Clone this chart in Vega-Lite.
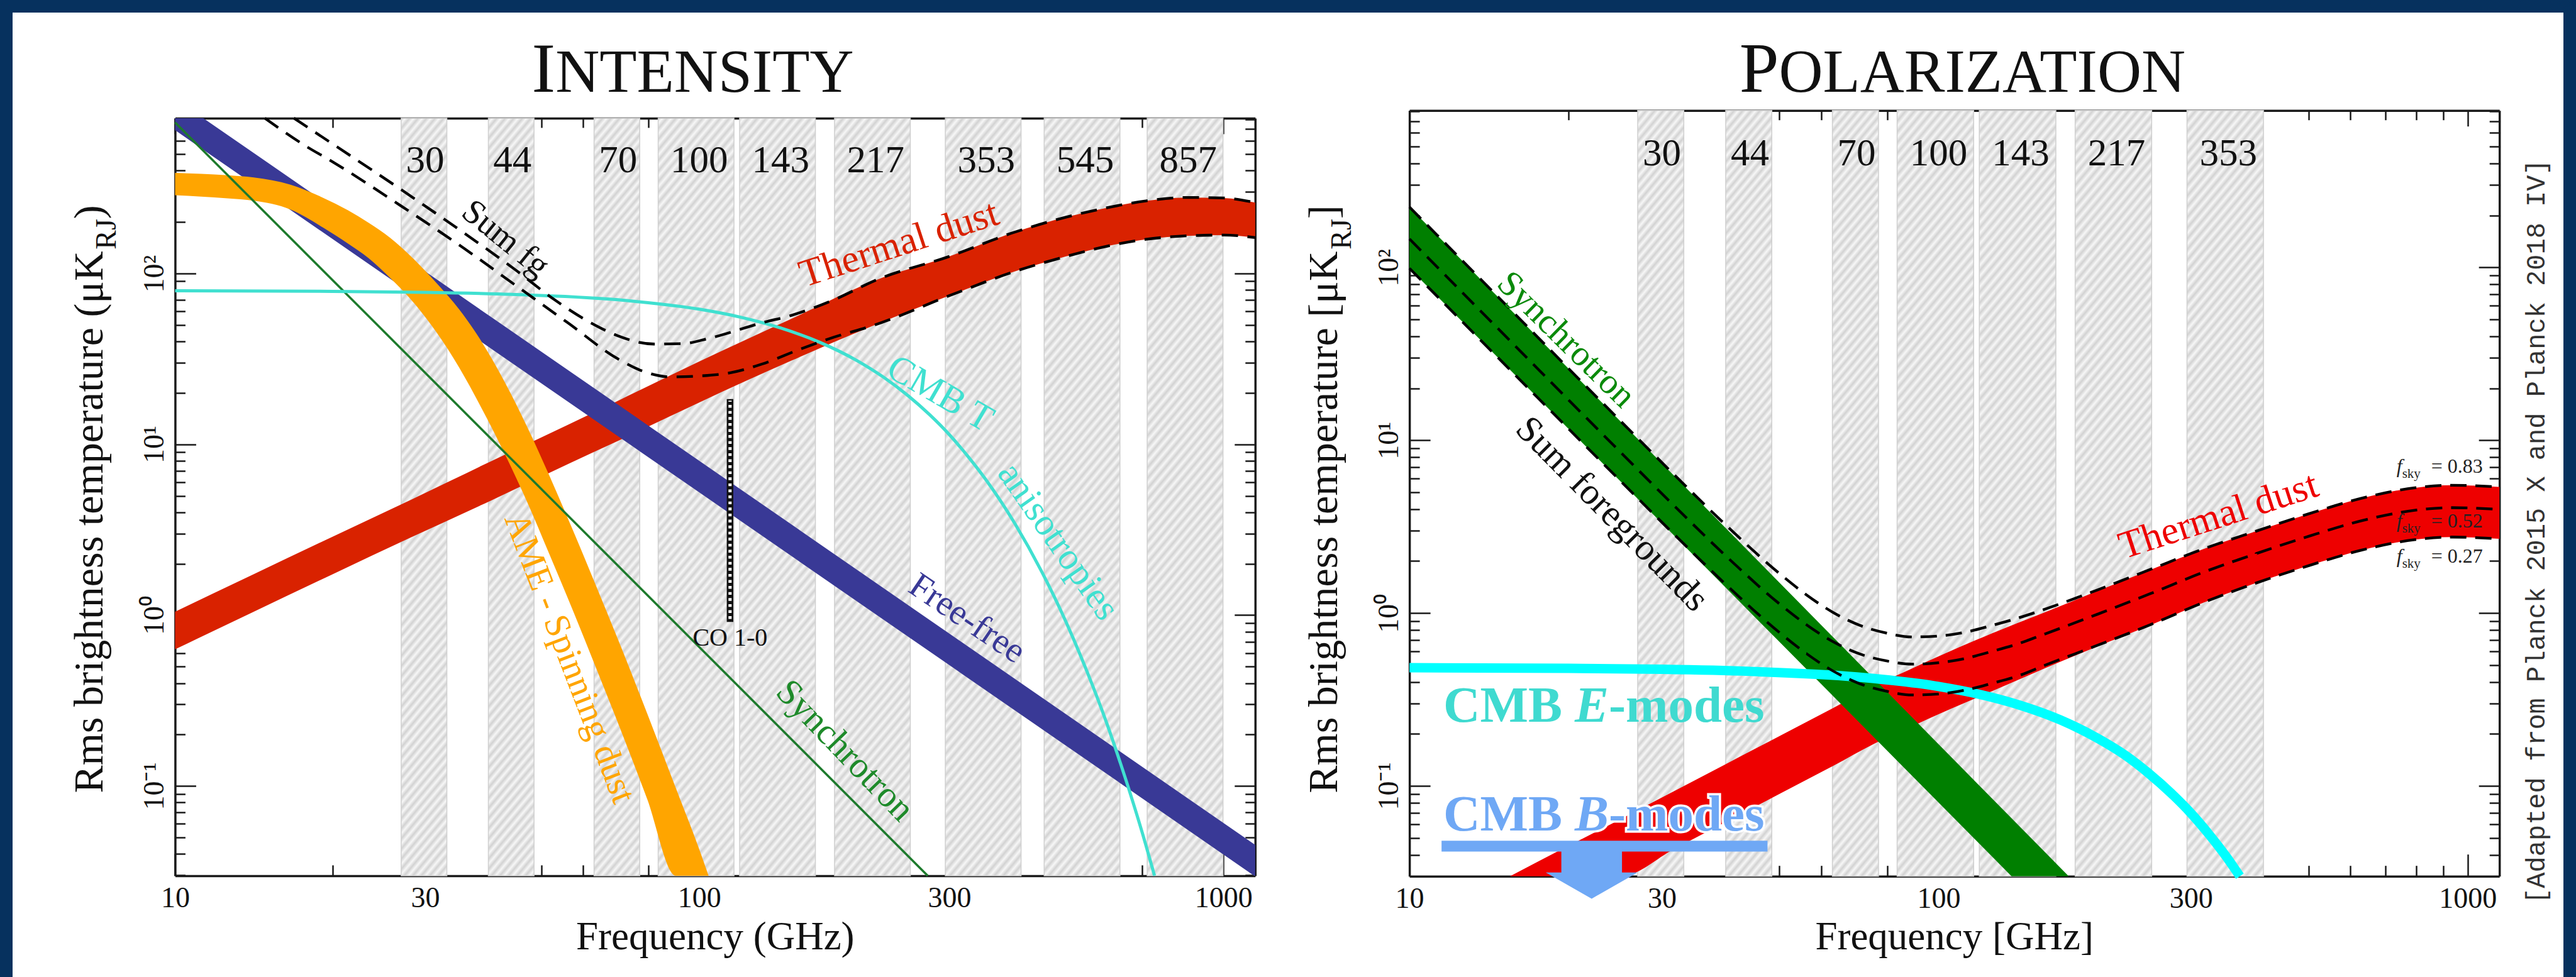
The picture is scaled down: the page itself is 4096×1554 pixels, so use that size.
{
"$schema":"https://vega.github.io/schema/vega-lite/v6.json",
"width":4096,"height":1574,
"autosize":{"type":"none"},
"padding":{"left":0,"top":0,"right":0,"bottom":-20},
"background":"white",
"config":{
 "view":{"stroke":"#06315e","strokeWidth":40},
 "axis":{"grid":false,"title":null,"domainColor":"#1a1a1a","tickColor":"#1a1a1a","labelFont":"Liberation Serif","labelColor":"#111111","labelOverlap":false,"labelFlush":false,"domainWidth":3.5,"tickWidth":2.5,"zindex":1},
 "text":{"font":"Liberation Serif","color":"#111111"}
},
"datasets":{
 "bandsL":[{"lo":27,"hi":33,"f":30,"lab":"30","g":"L"},{"lo":39.6,"hi":48.4,"f":44,"lab":"44","g":"L"},{"lo":63,"hi":77,"f":70,"lab":"70","g":"L"},{"lo":83.5,"hi":116.5,"f":100,"lab":"100","g":"H"},{"lo":119.4,"hi":166.6,"f":143,"lab":"143","g":"H"},{"lo":181.2,"hi":252.8,"f":217,"lab":"217","g":"H"},{"lo":294.8,"hi":411.2,"f":353,"lab":"353","g":"H"},{"lo":455.1,"hi":634.9,"f":545,"lab":"545","g":"H"},{"lo":715.6,"hi":998.4,"f":857,"lab":"857","g":"H"}],
 "bandsR":[{"lo":27,"hi":33,"f":30,"lab":"30","g":"L"},{"lo":39.6,"hi":48.4,"f":44,"lab":"44","g":"L"},{"lo":63,"hi":77,"f":70,"lab":"70","g":"L"},{"lo":83.5,"hi":116.5,"f":100,"lab":"100","g":"H"},{"lo":119.4,"hi":166.6,"f":143,"lab":"143","g":"H"},{"lo":181.2,"hi":252.8,"f":217,"lab":"217","g":"H"},{"lo":294.8,"hi":411.2,"f":353,"lab":"353","g":"H"}],
 "dustL":[{"f":10,"lo":0.631,"hi":1.047},{"f":14.13,"lo":1.047,"hi":1.738},{"f":20,"lo":1.738,"hi":2.884},{"f":28.18,"lo":2.851,"hi":4.732},{"f":40,"lo":4.677,"hi":7.943},{"f":56.23,"lo":7.674,"hi":13.03},{"f":70,"lo":10.47,"hi":17.99},{"f":100,"lo":17.58,"hi":30.55},{"f":150,"lo":30.9,"hi":54.33},{"f":216.8,"lo":50.12,"hi":91.2},{"f":300,"lo":74.13,"hi":125.9},{"f":398.1,"lo":102.3,"hi":173.8},{"f":501.2,"lo":125.9,"hi":213.8},{"f":600,"lo":144.5,"hi":242.7},{"f":711.2,"lo":158.5,"hi":266.1},{"f":849.2,"lo":166,"hi":278.6},{"f":1000,"lo":167.9,"hi":276.7},{"f":1150,"lo":162.2,"hi":260}],
 "sumLu":[{"f":16.85,"v":812},{"f":19.95,"v":575.4},{"f":26.85,"v":313.3},{"f":35.48,"v":173.8},{"f":44.67,"v":104.7},{"f":52.97,"v":70.15},{"f":63.1,"v":50.12},{"f":70,"v":43.15},{"f":82.04,"v":38.64},{"f":93.33,"v":38.9},{"f":104.2,"v":41.69},{"f":132.4,"v":51.64},{"f":150,"v":56.89},{"f":182,"v":70.79},{"f":216.8,"v":91.2},{"f":300,"v":125.9},{"f":398.1,"v":173.8},{"f":501.2,"v":213.8},{"f":600,"v":242.7},{"f":711.2,"v":266.1},{"f":849.2,"v":278.6},{"f":1000,"v":276.7},{"f":1150,"v":260}],
 "sumLl":[{"f":14.83,"v":812},{"f":17.78,"v":555.9},{"f":19.95,"v":451.9},{"f":26.85,"v":251.2},{"f":35.48,"v":141.3},{"f":44.67,"v":85.11},{"f":56.23,"v":51.29},{"f":70,"v":31.62},{"f":79.43,"v":26.3},{"f":87.9,"v":24.83},{"f":100,"v":25.12},{"f":115.1,"v":26.3},{"f":131.8,"v":29.51},{"f":155.2,"v":35.89},{"f":177.8,"v":41.69},{"f":216.8,"v":50.12},{"f":300,"v":74.13},{"f":398.1,"v":102.3},{"f":501.2,"v":125.9},{"f":600,"v":144.5},{"f":711.2,"v":158.5},{"f":849.2,"v":166},{"f":1000,"v":167.9},{"f":1150,"v":162.2}],
 "ffL":[{"f":10,"lo":690.2,"hi":812},{"f":11.32,"lo":530.2,"hi":812},{"f":1145,"lo":0.02982,"hi":0.0456},{"f":1150,"lo":0.02982,"hi":0.04519}],
 "ameL":[{"f":10,"lo":287.1,"hi":388.2},{"f":12.59,"lo":275.4,"hi":375.8},{"f":14.13,"lo":266.7,"hi":364.8},{"f":16.6,"lo":237.1,"hi":331.1},{"f":19.14,"lo":186.2,"hi":278},{"f":21.38,"lo":149.6,"hi":234.4},{"f":23.39,"lo":123,"hi":198.2},{"f":25.7,"lo":94.41,"hi":162.2},{"f":28.51,"lo":67.61,"hi":121.9},{"f":31.62,"lo":44.67,"hi":87.1},{"f":34.83,"lo":28.18,"hi":61.66},{"f":38.46,"lo":16.22,"hi":39.81},{"f":42.46,"lo":8.913,"hi":23.44},{"f":46.99,"lo":4.571,"hi":12.59},{"f":51.88,"lo":2.239,"hi":6.457},{"f":57.54,"lo":1.047,"hi":3.09},{"f":63.39,"lo":0.5012,"hi":1.514},{"f":70.79,"lo":0.2138,"hi":0.6607},{"f":79.43,"lo":0.08511,"hi":0.2692},{"f":90.16,"lo":0.02982,"hi":0.09772},{"f":100,"lo":0.02982,"hi":0.04266},{"f":104.2,"lo":0.02982,"hi":0.02982}],
 "syncL":[{"f":10,"v":765.6},{"f":272.9,"v":0.02982}],
 "cmbT":[{"f":10,"v":79.25},{"f":20,"v":78.61},{"f":30,"v":77.62},{"f":44,"v":75.51},{"f":70,"v":70.15},{"f":100,"v":61.8},{"f":120,"v":55.46},{"f":143,"v":47.97},{"f":170,"v":39.51},{"f":200,"v":30.9},{"f":225,"v":24.64},{"f":250,"v":19.32},{"f":275,"v":14.93},{"f":300,"v":11.4},{"f":325,"v":8.561},{"f":350,"v":6.383},{"f":400,"v":3.443},{"f":450,"v":1.803},{"f":500,"v":0.9247},{"f":550,"v":0.4634},{"f":600,"v":0.2301},{"f":650,"v":0.1112},{"f":700,"v":0.05346},{"f":739,"v":0.02982}],
 "syncR":[{"f":10,"lo":98.86,"hi":223.4},{"f":137.4,"lo":0.03006,"hi":0.06501},{"f":176.2,"lo":0.03006,"hi":0.03006}],
 "dustR":[{"f":15.49,"lo":0.03006,"hi":0.03006},{"f":19.95,"lo":0.03006,"hi":0.04498},{"f":25.12,"lo":0.03006,"hi":0.06457},{"f":31.62,"lo":0.04315,"hi":0.09333},{"f":39.81,"lo":0.06237,"hi":0.1349},{"f":50.12,"lo":0.09016,"hi":0.195},{"f":63.1,"lo":0.1303,"hi":0.2818},{"f":75.86,"lo":0.1766,"hi":0.3819},{"f":89.13,"lo":0.2213,"hi":0.4786},{"f":100,"lo":0.26,"hi":0.5623},{"f":125.9,"lo":0.3524,"hi":0.7621},{"f":158.5,"lo":0.4786,"hi":1.009},{"f":199.5,"lo":0.6412,"hi":1.34},{"f":251.2,"lo":0.8511,"hi":1.778},{"f":316.2,"lo":1.148,"hi":2.344},{"f":398.1,"lo":1.493,"hi":2.979},{"f":501.2,"lo":1.884,"hi":3.758},{"f":631,"lo":2.317,"hi":4.624},{"f":794.3,"lo":2.661,"hi":5.309},{"f":933.3,"lo":2.754,"hi":5.495},{"f":1148,"lo":2.692,"hi":5.37}],
 "sumR":[{"f":10,"u":223.4,"m":146.2,"l":98.86},{"f":15.85,"u":53.46,"m":35.08,"l":23.82},{"f":25.12,"u":12.82,"m":8.462,"l":5.771},{"f":31.62,"u":6.339,"m":4.188,"l":2.861},{"f":39.81,"u":3.188,"m":2.114,"l":1.446},{"f":50.12,"u":1.688,"m":1.127,"l":0.7694},{"f":56.23,"u":1.278,"m":0.8587,"l":0.5844},{"f":63.1,"u":1.012,"m":0.6849,"l":0.4637},{"f":70.79,"u":0.8526,"m":0.5823,"l":0.3917},{"f":79.43,"u":0.7691,"m":0.5305,"l":0.3542},{"f":89.13,"u":0.7282,"m":0.5066,"l":0.336},{"f":100,"u":0.7368,"m":0.5165,"l":0.3404},{"f":112.2,"u":0.775,"m":0.5463,"l":0.3583},{"f":125.9,"u":0.8474,"m":0.5997,"l":0.3917},{"f":141.3,"u":0.9367,"m":0.6643,"l":0.4331},{"f":158.5,"u":1.051,"m":0.7557,"l":0.4978},{"f":199.5,"u":1.36,"m":0.9842,"l":0.6507},{"f":251.2,"u":1.788,"m":1.295,"l":0.8558},{"f":316.2,"u":2.349,"m":1.721,"l":1.15},{"f":398.1,"u":2.979,"m":2.208,"l":1.493},{"f":501.2,"u":3.758,"m":2.786,"l":1.884},{"f":631,"u":4.624,"m":3.428,"l":2.317},{"f":794.3,"u":5.309,"m":3.936,"l":2.661},{"f":933.3,"u":5.495,"m":4.074,"l":2.754},{"f":1148,"u":5.37,"m":3.981,"l":2.692}],
 "cmbE":[{"f":10,"v":0.4831},{"f":20,"v":0.4792},{"f":30,"v":0.4732},{"f":44,"v":0.4603},{"f":70,"v":0.4276},{"f":100,"v":0.3767},{"f":120,"v":0.3381},{"f":143,"v":0.2924},{"f":170,"v":0.241},{"f":200,"v":0.1884},{"f":225,"v":0.151},{"f":250,"v":0.1178},{"f":275,"v":0.09099},{"f":300,"v":0.0695},{"f":325,"v":0.05218},{"f":350,"v":0.0389},{"f":371,"v":0.03006}],
 "fsky":[{"f":733.8,"v":6.477,"fs":752.1,"vs":6.059,"fe":853.1,"t":"= 0.83"},{"f":733.8,"v":3.141,"fs":752.1,"vs":2.938,"fe":853.1,"t":"= 0.52"},{"f":733.8,"v":1.954,"fs":752.1,"vs":1.828,"fe":853.1,"t":"= 0.27"}]
},
"resolve":{"scale":{"x":"independent","y":"independent"},"axis":{"x":"independent","y":"independent"}},
"layer":[
{
 "resolve":{"scale":{"x":"shared","y":"shared"},"axis":{"x":"independent","y":"independent"}},
 "layer":[
  {"data":{"name":"bandsL"},"transform":[{"filter":"datum.g == 'L'"}],"mark":{"type":"rect","stroke":"#cfcfcf","strokeWidth":1.5,"fill":{"gradient":"linear","x1":0,"y1":0,"x2":0.0765,"y2":1.0663,"stops":[
{"offset":0,"color":"#d2d2d2"},{"offset":0.00625,"color":"#f7f7f7"},{"offset":0.0125,"color":"#d2d2d2"},{"offset":0.01875,"color":"#f7f7f7"},{"offset":0.025,"color":"#d2d2d2"},{"offset":0.03125,"color":"#f7f7f7"},{"offset":0.0375,"color":"#d2d2d2"},{"offset":0.04375,"color":"#f7f7f7"},{"offset":0.05,"color":"#d2d2d2"},{"offset":0.05625,"color":"#f7f7f7"},{"offset":0.0625,"color":"#d2d2d2"},{"offset":0.06875,"color":"#f7f7f7"},{"offset":0.075,"color":"#d2d2d2"},{"offset":0.08125,"color":"#f7f7f7"},{"offset":0.0875,"color":"#d2d2d2"},{"offset":0.09375,"color":"#f7f7f7"},
{"offset":0.1,"color":"#d2d2d2"},{"offset":0.10625,"color":"#f7f7f7"},{"offset":0.1125,"color":"#d2d2d2"},{"offset":0.11875,"color":"#f7f7f7"},{"offset":0.125,"color":"#d2d2d2"},{"offset":0.13125,"color":"#f7f7f7"},{"offset":0.1375,"color":"#d2d2d2"},{"offset":0.14375,"color":"#f7f7f7"},{"offset":0.15,"color":"#d2d2d2"},{"offset":0.15625,"color":"#f7f7f7"},{"offset":0.1625,"color":"#d2d2d2"},{"offset":0.16875,"color":"#f7f7f7"},{"offset":0.175,"color":"#d2d2d2"},{"offset":0.18125,"color":"#f7f7f7"},{"offset":0.1875,"color":"#d2d2d2"},{"offset":0.19375,"color":"#f7f7f7"},
{"offset":0.2,"color":"#d2d2d2"},{"offset":0.20625,"color":"#f7f7f7"},{"offset":0.2125,"color":"#d2d2d2"},{"offset":0.21875,"color":"#f7f7f7"},{"offset":0.225,"color":"#d2d2d2"},{"offset":0.23125,"color":"#f7f7f7"},{"offset":0.2375,"color":"#d2d2d2"},{"offset":0.24375,"color":"#f7f7f7"},{"offset":0.25,"color":"#d2d2d2"},{"offset":0.25625,"color":"#f7f7f7"},{"offset":0.2625,"color":"#d2d2d2"},{"offset":0.26875,"color":"#f7f7f7"},{"offset":0.275,"color":"#d2d2d2"},{"offset":0.28125,"color":"#f7f7f7"},{"offset":0.2875,"color":"#d2d2d2"},{"offset":0.29375,"color":"#f7f7f7"},
{"offset":0.3,"color":"#d2d2d2"},{"offset":0.30625,"color":"#f7f7f7"},{"offset":0.3125,"color":"#d2d2d2"},{"offset":0.31875,"color":"#f7f7f7"},{"offset":0.325,"color":"#d2d2d2"},{"offset":0.33125,"color":"#f7f7f7"},{"offset":0.3375,"color":"#d2d2d2"},{"offset":0.34375,"color":"#f7f7f7"},{"offset":0.35,"color":"#d2d2d2"},{"offset":0.35625,"color":"#f7f7f7"},{"offset":0.3625,"color":"#d2d2d2"},{"offset":0.36875,"color":"#f7f7f7"},{"offset":0.375,"color":"#d2d2d2"},{"offset":0.38125,"color":"#f7f7f7"},{"offset":0.3875,"color":"#d2d2d2"},{"offset":0.39375,"color":"#f7f7f7"},
{"offset":0.4,"color":"#d2d2d2"},{"offset":0.40625,"color":"#f7f7f7"},{"offset":0.4125,"color":"#d2d2d2"},{"offset":0.41875,"color":"#f7f7f7"},{"offset":0.425,"color":"#d2d2d2"},{"offset":0.43125,"color":"#f7f7f7"},{"offset":0.4375,"color":"#d2d2d2"},{"offset":0.44375,"color":"#f7f7f7"},{"offset":0.45,"color":"#d2d2d2"},{"offset":0.45625,"color":"#f7f7f7"},{"offset":0.4625,"color":"#d2d2d2"},{"offset":0.46875,"color":"#f7f7f7"},{"offset":0.475,"color":"#d2d2d2"},{"offset":0.48125,"color":"#f7f7f7"},{"offset":0.4875,"color":"#d2d2d2"},{"offset":0.49375,"color":"#f7f7f7"},
{"offset":0.5,"color":"#d2d2d2"},{"offset":0.50625,"color":"#f7f7f7"},{"offset":0.5125,"color":"#d2d2d2"},{"offset":0.51875,"color":"#f7f7f7"},{"offset":0.525,"color":"#d2d2d2"},{"offset":0.53125,"color":"#f7f7f7"},{"offset":0.5375,"color":"#d2d2d2"},{"offset":0.54375,"color":"#f7f7f7"},{"offset":0.55,"color":"#d2d2d2"},{"offset":0.55625,"color":"#f7f7f7"},{"offset":0.5625,"color":"#d2d2d2"},{"offset":0.56875,"color":"#f7f7f7"},{"offset":0.575,"color":"#d2d2d2"},{"offset":0.58125,"color":"#f7f7f7"},{"offset":0.5875,"color":"#d2d2d2"},{"offset":0.59375,"color":"#f7f7f7"},
{"offset":0.6,"color":"#d2d2d2"},{"offset":0.60625,"color":"#f7f7f7"},{"offset":0.6125,"color":"#d2d2d2"},{"offset":0.61875,"color":"#f7f7f7"},{"offset":0.625,"color":"#d2d2d2"},{"offset":0.63125,"color":"#f7f7f7"},{"offset":0.6375,"color":"#d2d2d2"},{"offset":0.64375,"color":"#f7f7f7"},{"offset":0.65,"color":"#d2d2d2"},{"offset":0.65625,"color":"#f7f7f7"},{"offset":0.6625,"color":"#d2d2d2"},{"offset":0.66875,"color":"#f7f7f7"},{"offset":0.675,"color":"#d2d2d2"},{"offset":0.68125,"color":"#f7f7f7"},{"offset":0.6875,"color":"#d2d2d2"},{"offset":0.69375,"color":"#f7f7f7"},
{"offset":0.7,"color":"#d2d2d2"},{"offset":0.70625,"color":"#f7f7f7"},{"offset":0.7125,"color":"#d2d2d2"},{"offset":0.71875,"color":"#f7f7f7"},{"offset":0.725,"color":"#d2d2d2"},{"offset":0.73125,"color":"#f7f7f7"},{"offset":0.7375,"color":"#d2d2d2"},{"offset":0.74375,"color":"#f7f7f7"},{"offset":0.75,"color":"#d2d2d2"},{"offset":0.75625,"color":"#f7f7f7"},{"offset":0.7625,"color":"#d2d2d2"},{"offset":0.76875,"color":"#f7f7f7"},{"offset":0.775,"color":"#d2d2d2"},{"offset":0.78125,"color":"#f7f7f7"},{"offset":0.7875,"color":"#d2d2d2"},{"offset":0.79375,"color":"#f7f7f7"},
{"offset":0.8,"color":"#d2d2d2"},{"offset":0.80625,"color":"#f7f7f7"},{"offset":0.8125,"color":"#d2d2d2"},{"offset":0.81875,"color":"#f7f7f7"},{"offset":0.825,"color":"#d2d2d2"},{"offset":0.83125,"color":"#f7f7f7"},{"offset":0.8375,"color":"#d2d2d2"},{"offset":0.84375,"color":"#f7f7f7"},{"offset":0.85,"color":"#d2d2d2"},{"offset":0.85625,"color":"#f7f7f7"},{"offset":0.8625,"color":"#d2d2d2"},{"offset":0.86875,"color":"#f7f7f7"},{"offset":0.875,"color":"#d2d2d2"},{"offset":0.88125,"color":"#f7f7f7"},{"offset":0.8875,"color":"#d2d2d2"},{"offset":0.89375,"color":"#f7f7f7"},
{"offset":0.9,"color":"#d2d2d2"},{"offset":0.90625,"color":"#f7f7f7"},{"offset":0.9125,"color":"#d2d2d2"},{"offset":0.91875,"color":"#f7f7f7"},{"offset":0.925,"color":"#d2d2d2"},{"offset":0.93125,"color":"#f7f7f7"},{"offset":0.9375,"color":"#d2d2d2"},{"offset":0.94375,"color":"#f7f7f7"},{"offset":0.95,"color":"#d2d2d2"},{"offset":0.95625,"color":"#f7f7f7"},{"offset":0.9625,"color":"#d2d2d2"},{"offset":0.96875,"color":"#f7f7f7"},{"offset":0.975,"color":"#d2d2d2"},{"offset":0.98125,"color":"#f7f7f7"},{"offset":0.9875,"color":"#d2d2d2"},{"offset":0.99375,"color":"#f7f7f7"},{"offset":1,"color":"#d2d2d2"}]}},
   "encoding":{
    "x":{"field":"lo","type":"quantitative","scale":{"type":"log","domain":[10,1150],"range":[278.4,1995.8],"nice":false},
     "axis":{"orient":"bottom","offset":-181.1,"values":[10,30,100,300,1000],"format":"d","tickSize":-35,"labelPadding":84.6,"labelFontSize":46,"labelBaseline":"alphabetic","labelAlign":"center"}},
    "x2":{"field":"hi"},
    "y":{"datum":0.02982,"type":"quantitative","scale":{"type":"log","domain":[0.02982,812],"range":[1392.9,187.9],"nice":false},
     "axis":{"orient":"left","offset":-278.4,"values":[0.1,1,10,100],"tickSize":-33,"labelPadding":52,"labelAngle":-90,"labelAlign":"center","labelBaseline":"alphabetic","labelFontSize":46,"labelExpr":"datum.value > 50 ? '10\u00b2' : datum.value > 5 ? '10\u00b9' : datum.value > 0.5 ? '10\u2070' : '10\u207b\u00b9'"}},
    "y2":{"datum":812}}},
  {"data":{"name":"bandsL"},"transform":[{"filter":"datum.g == 'H'"}],"mark":{"type":"rect","stroke":"#cfcfcf","strokeWidth":1.5,"fill":{"gradient":"linear","x1":0,"y1":0,"x2":0.1315,"y2":1.1035,"stops":[
{"offset":0,"color":"#d2d2d2"},{"offset":0.00625,"color":"#f7f7f7"},{"offset":0.0125,"color":"#d2d2d2"},{"offset":0.01875,"color":"#f7f7f7"},{"offset":0.025,"color":"#d2d2d2"},{"offset":0.03125,"color":"#f7f7f7"},{"offset":0.0375,"color":"#d2d2d2"},{"offset":0.04375,"color":"#f7f7f7"},{"offset":0.05,"color":"#d2d2d2"},{"offset":0.05625,"color":"#f7f7f7"},{"offset":0.0625,"color":"#d2d2d2"},{"offset":0.06875,"color":"#f7f7f7"},{"offset":0.075,"color":"#d2d2d2"},{"offset":0.08125,"color":"#f7f7f7"},{"offset":0.0875,"color":"#d2d2d2"},{"offset":0.09375,"color":"#f7f7f7"},
{"offset":0.1,"color":"#d2d2d2"},{"offset":0.10625,"color":"#f7f7f7"},{"offset":0.1125,"color":"#d2d2d2"},{"offset":0.11875,"color":"#f7f7f7"},{"offset":0.125,"color":"#d2d2d2"},{"offset":0.13125,"color":"#f7f7f7"},{"offset":0.1375,"color":"#d2d2d2"},{"offset":0.14375,"color":"#f7f7f7"},{"offset":0.15,"color":"#d2d2d2"},{"offset":0.15625,"color":"#f7f7f7"},{"offset":0.1625,"color":"#d2d2d2"},{"offset":0.16875,"color":"#f7f7f7"},{"offset":0.175,"color":"#d2d2d2"},{"offset":0.18125,"color":"#f7f7f7"},{"offset":0.1875,"color":"#d2d2d2"},{"offset":0.19375,"color":"#f7f7f7"},
{"offset":0.2,"color":"#d2d2d2"},{"offset":0.20625,"color":"#f7f7f7"},{"offset":0.2125,"color":"#d2d2d2"},{"offset":0.21875,"color":"#f7f7f7"},{"offset":0.225,"color":"#d2d2d2"},{"offset":0.23125,"color":"#f7f7f7"},{"offset":0.2375,"color":"#d2d2d2"},{"offset":0.24375,"color":"#f7f7f7"},{"offset":0.25,"color":"#d2d2d2"},{"offset":0.25625,"color":"#f7f7f7"},{"offset":0.2625,"color":"#d2d2d2"},{"offset":0.26875,"color":"#f7f7f7"},{"offset":0.275,"color":"#d2d2d2"},{"offset":0.28125,"color":"#f7f7f7"},{"offset":0.2875,"color":"#d2d2d2"},{"offset":0.29375,"color":"#f7f7f7"},
{"offset":0.3,"color":"#d2d2d2"},{"offset":0.30625,"color":"#f7f7f7"},{"offset":0.3125,"color":"#d2d2d2"},{"offset":0.31875,"color":"#f7f7f7"},{"offset":0.325,"color":"#d2d2d2"},{"offset":0.33125,"color":"#f7f7f7"},{"offset":0.3375,"color":"#d2d2d2"},{"offset":0.34375,"color":"#f7f7f7"},{"offset":0.35,"color":"#d2d2d2"},{"offset":0.35625,"color":"#f7f7f7"},{"offset":0.3625,"color":"#d2d2d2"},{"offset":0.36875,"color":"#f7f7f7"},{"offset":0.375,"color":"#d2d2d2"},{"offset":0.38125,"color":"#f7f7f7"},{"offset":0.3875,"color":"#d2d2d2"},{"offset":0.39375,"color":"#f7f7f7"},
{"offset":0.4,"color":"#d2d2d2"},{"offset":0.40625,"color":"#f7f7f7"},{"offset":0.4125,"color":"#d2d2d2"},{"offset":0.41875,"color":"#f7f7f7"},{"offset":0.425,"color":"#d2d2d2"},{"offset":0.43125,"color":"#f7f7f7"},{"offset":0.4375,"color":"#d2d2d2"},{"offset":0.44375,"color":"#f7f7f7"},{"offset":0.45,"color":"#d2d2d2"},{"offset":0.45625,"color":"#f7f7f7"},{"offset":0.4625,"color":"#d2d2d2"},{"offset":0.46875,"color":"#f7f7f7"},{"offset":0.475,"color":"#d2d2d2"},{"offset":0.48125,"color":"#f7f7f7"},{"offset":0.4875,"color":"#d2d2d2"},{"offset":0.49375,"color":"#f7f7f7"},
{"offset":0.5,"color":"#d2d2d2"},{"offset":0.50625,"color":"#f7f7f7"},{"offset":0.5125,"color":"#d2d2d2"},{"offset":0.51875,"color":"#f7f7f7"},{"offset":0.525,"color":"#d2d2d2"},{"offset":0.53125,"color":"#f7f7f7"},{"offset":0.5375,"color":"#d2d2d2"},{"offset":0.54375,"color":"#f7f7f7"},{"offset":0.55,"color":"#d2d2d2"},{"offset":0.55625,"color":"#f7f7f7"},{"offset":0.5625,"color":"#d2d2d2"},{"offset":0.56875,"color":"#f7f7f7"},{"offset":0.575,"color":"#d2d2d2"},{"offset":0.58125,"color":"#f7f7f7"},{"offset":0.5875,"color":"#d2d2d2"},{"offset":0.59375,"color":"#f7f7f7"},
{"offset":0.6,"color":"#d2d2d2"},{"offset":0.60625,"color":"#f7f7f7"},{"offset":0.6125,"color":"#d2d2d2"},{"offset":0.61875,"color":"#f7f7f7"},{"offset":0.625,"color":"#d2d2d2"},{"offset":0.63125,"color":"#f7f7f7"},{"offset":0.6375,"color":"#d2d2d2"},{"offset":0.64375,"color":"#f7f7f7"},{"offset":0.65,"color":"#d2d2d2"},{"offset":0.65625,"color":"#f7f7f7"},{"offset":0.6625,"color":"#d2d2d2"},{"offset":0.66875,"color":"#f7f7f7"},{"offset":0.675,"color":"#d2d2d2"},{"offset":0.68125,"color":"#f7f7f7"},{"offset":0.6875,"color":"#d2d2d2"},{"offset":0.69375,"color":"#f7f7f7"},
{"offset":0.7,"color":"#d2d2d2"},{"offset":0.70625,"color":"#f7f7f7"},{"offset":0.7125,"color":"#d2d2d2"},{"offset":0.71875,"color":"#f7f7f7"},{"offset":0.725,"color":"#d2d2d2"},{"offset":0.73125,"color":"#f7f7f7"},{"offset":0.7375,"color":"#d2d2d2"},{"offset":0.74375,"color":"#f7f7f7"},{"offset":0.75,"color":"#d2d2d2"},{"offset":0.75625,"color":"#f7f7f7"},{"offset":0.7625,"color":"#d2d2d2"},{"offset":0.76875,"color":"#f7f7f7"},{"offset":0.775,"color":"#d2d2d2"},{"offset":0.78125,"color":"#f7f7f7"},{"offset":0.7875,"color":"#d2d2d2"},{"offset":0.79375,"color":"#f7f7f7"},
{"offset":0.8,"color":"#d2d2d2"},{"offset":0.80625,"color":"#f7f7f7"},{"offset":0.8125,"color":"#d2d2d2"},{"offset":0.81875,"color":"#f7f7f7"},{"offset":0.825,"color":"#d2d2d2"},{"offset":0.83125,"color":"#f7f7f7"},{"offset":0.8375,"color":"#d2d2d2"},{"offset":0.84375,"color":"#f7f7f7"},{"offset":0.85,"color":"#d2d2d2"},{"offset":0.85625,"color":"#f7f7f7"},{"offset":0.8625,"color":"#d2d2d2"},{"offset":0.86875,"color":"#f7f7f7"},{"offset":0.875,"color":"#d2d2d2"},{"offset":0.88125,"color":"#f7f7f7"},{"offset":0.8875,"color":"#d2d2d2"},{"offset":0.89375,"color":"#f7f7f7"},
{"offset":0.9,"color":"#d2d2d2"},{"offset":0.90625,"color":"#f7f7f7"},{"offset":0.9125,"color":"#d2d2d2"},{"offset":0.91875,"color":"#f7f7f7"},{"offset":0.925,"color":"#d2d2d2"},{"offset":0.93125,"color":"#f7f7f7"},{"offset":0.9375,"color":"#d2d2d2"},{"offset":0.94375,"color":"#f7f7f7"},{"offset":0.95,"color":"#d2d2d2"},{"offset":0.95625,"color":"#f7f7f7"},{"offset":0.9625,"color":"#d2d2d2"},{"offset":0.96875,"color":"#f7f7f7"},{"offset":0.975,"color":"#d2d2d2"},{"offset":0.98125,"color":"#f7f7f7"},{"offset":0.9875,"color":"#d2d2d2"},{"offset":0.99375,"color":"#f7f7f7"},{"offset":1,"color":"#d2d2d2"}]}},
   "encoding":{"x":{"field":"lo","type":"quantitative","axis":null},"x2":{"field":"hi"},"y":{"datum":0.02982,"type":"quantitative","axis":null},"y2":{"datum":812}}},
  {"data":{"values":[{}]},"mark":{"type":"point","opacity":0},
   "encoding":{"x":{"datum":100,"type":"quantitative","axis":{"orient":"bottom","offset":-181.1,"values":[20,40,50,60,70,80,90,200,400,500,600,700,800,900],"tickSize":-17,"labels":false,"domain":false}},
    "y":{"datum":1,"type":"quantitative","axis":{"orient":"left","offset":-278.4,"values":[0.03,0.04,0.05,0.06,0.07,0.08,0.09,0.2,0.3,0.4,0.5,0.6,0.7,0.8,0.9,2,3,4,5,6,7,8,9,20,30,40,50,60,70,80,90,200,300,400,500,600,700,800],"tickSize":-16,"labels":false,"domain":false}}}},
  {"data":{"values":[{}]},"mark":{"type":"point","opacity":0},
   "encoding":{"x":{"datum":100,"type":"quantitative","axis":{"orient":"top","offset":-187.9,"values":[10,30,100,300,1000],"tickSize":-25,"labels":false}},
    "y":{"datum":1,"type":"quantitative","axis":{"orient":"right","offset":-2100.2,"values":[0.1,1,10,100],"tickSize":-33,"labels":false}}}},
  {"data":{"values":[{}]},"mark":{"type":"point","opacity":0},
   "encoding":{"x":{"datum":100,"type":"quantitative","axis":{"orient":"top","offset":-187.9,"values":[20,40,50,60,70,80,90,200,400,500,600,700,800,900],"tickSize":-15,"labels":false,"domain":false}},
    "y":{"datum":1,"type":"quantitative","axis":{"orient":"right","offset":-2100.2,"values":[0.03,0.04,0.05,0.06,0.07,0.08,0.09,0.2,0.3,0.4,0.5,0.6,0.7,0.8,0.9,2,3,4,5,6,7,8,9,20,30,40,50,60,70,80,90,200,300,400,500,600,700,800],"tickSize":-16,"labels":false,"domain":false}}}},
  {"data":{"name":"dustL"},"mark":{"type":"area","color":"#d92200","interpolate":"monotone"},
   "encoding":{"x":{"field":"f","type":"quantitative","axis":null},"y":{"field":"lo","type":"quantitative","axis":null},"y2":{"field":"hi"}}},
  {"data":{"name":"ffL"},"mark":{"type":"area","color":"#393996"},
   "encoding":{"x":{"field":"f","type":"quantitative","axis":null},"y":{"field":"lo","type":"quantitative","axis":null},"y2":{"field":"hi"}}},
  {"data":{"name":"ameL"},"mark":{"type":"area","color":"#ffa500","interpolate":"monotone"},
   "encoding":{"x":{"field":"f","type":"quantitative","axis":null},"y":{"field":"lo","type":"quantitative","axis":null},"y2":{"field":"hi"}}},
  {"data":{"name":"syncL"},"mark":{"type":"line","color":"#1d7a2c","strokeWidth":3.5},
   "encoding":{"x":{"field":"f","type":"quantitative","axis":null},"y":{"field":"v","type":"quantitative","axis":null}}},
  {"data":{"name":"cmbT"},"mark":{"type":"line","color":"#40e0d0","strokeWidth":5,"interpolate":"monotone"},
   "encoding":{"x":{"field":"f","type":"quantitative","axis":null},"y":{"field":"v","type":"quantitative","axis":null}}},
  {"data":{"name":"sumLu"},"mark":{"type":"line","color":"#000000","strokeWidth":4.3,"strokeDash":[26,15],"interpolate":"monotone"},
   "encoding":{"x":{"field":"f","type":"quantitative","axis":null},"y":{"field":"v","type":"quantitative","axis":null}}},
  {"data":{"name":"sumLl"},"mark":{"type":"line","color":"#000000","strokeWidth":4.3,"strokeDash":[26,15],"interpolate":"monotone"},
   "encoding":{"x":{"field":"f","type":"quantitative","axis":null},"y":{"field":"v","type":"quantitative","axis":null}}},
  {"data":{"values":[{"f":114.5,"lo":0.912,"hi":18.4}]},"mark":{"type":"rule","color":"#111111","strokeWidth":10.4},
   "encoding":{"x":{"field":"f","type":"quantitative","axis":null},"y":{"field":"lo","type":"quantitative","axis":null},"y2":{"field":"hi"}}},
  {"data":{"values":[{"f":114.5,"lo":0.95,"hi":18}]},"mark":{"type":"rule","color":"#ffffff","strokeWidth":5,"strokeDash":[4.4,5.2]},
   "encoding":{"x":{"field":"f","type":"quantitative","axis":null},"y":{"field":"lo","type":"quantitative","axis":null},"y2":{"field":"hi"}}},
  {"data":{"name":"bandsL"},"mark":{"type":"text","fontSize":61,"align":"center","baseline":"alphabetic"},
   "encoding":{"x":{"field":"f","type":"quantitative","axis":null},"y":{"datum":390.8,"type":"quantitative","axis":null},"text":{"field":"lab"}}},
  {"data":{"values":[{"f":47.93,"v":1156.4,"t":"I"}]},"mark":{"type":"text","fontSize":113,"align":"left","baseline":"alphabetic"},
   "encoding":{"x":{"field":"f","type":"quantitative","axis":null},"y":{"field":"v","type":"quantitative","axis":null},"text":{"field":"t"}}},
  {"data":{"values":[{"f":53.19,"v":1156.4,"t":"NTENSITY"}]},"mark":{"type":"text","fontSize":97,"align":"left","baseline":"alphabetic"},
   "encoding":{"x":{"field":"f","type":"quantitative","axis":null},"y":{"field":"v","type":"quantitative","axis":null},"text":{"field":"t"}}},
  {"data":{"values":[{"f":7.264,"v":0.09082,"t":"Rms brightness temperature (\u03bcK"},{"f":7.264,"v":208.7,"t":")"}]},"mark":{"type":"text","fontSize":66,"angle":-90,"align":"left","baseline":"alphabetic"},
   "encoding":{"x":{"field":"f","type":"quantitative","axis":null},"y":{"field":"v","type":"quantitative","axis":null},"text":{"field":"t"}}},
  {"data":{"values":[{"f":7.714,"v":138.3,"t":"RJ"}]},"mark":{"type":"text","fontSize":46,"angle":-90,"align":"left","baseline":"alphabetic"},
   "encoding":{"x":{"field":"f","type":"quantitative","axis":null},"y":{"field":"v","type":"quantitative","axis":null},"text":{"field":"t"}}},
  {"data":{"values":[{"f":107.3,"v":0.011053,"t":"Frequency (GHz)"}]},"mark":{"type":"text","fontSize":63,"align":"center","baseline":"alphabetic"},
   "encoding":{"x":{"field":"f","type":"quantitative","axis":null},"y":{"field":"v","type":"quantitative","axis":null},"text":{"field":"t"}}},
  {"data":{"values":[{"f":42.72,"v":160.3,"t":"Sum fg"}]},"mark":{"type":"text","fontSize":55,"angle":39,"color":"#111111"},
   "encoding":{"x":{"field":"f","type":"quantitative","axis":null},"y":{"field":"v","type":"quantitative","axis":null},"text":{"field":"t"}}},
  {"data":{"values":[{"f":240.4,"v":148.9,"t":"Thermal dust"}]},"mark":{"type":"text","fontSize":62,"angle":-18,"color":"#d92200"},
   "encoding":{"x":{"field":"f","type":"quantitative","axis":null},"y":{"field":"v","type":"quantitative","axis":null},"text":{"field":"t"}}},
  {"data":{"values":[{"f":288.2,"v":19.75,"t":"CMB T"}]},"mark":{"type":"text","fontSize":60,"angle":30,"color":"#40e0d0"},
   "encoding":{"x":{"field":"f","type":"quantitative","axis":null},"y":{"field":"v","type":"quantitative","axis":null},"text":{"field":"t"}}},
  {"data":{"values":[{"f":484.2,"v":2.7,"t":"anisotropies"}]},"mark":{"type":"text","fontSize":60,"angle":55,"color":"#40e0d0"},
   "encoding":{"x":{"field":"f","type":"quantitative","axis":null},"y":{"field":"v","type":"quantitative","axis":null},"text":{"field":"t"}}},
  {"data":{"values":[{"f":324.3,"v":0.954,"t":"Free-free"}]},"mark":{"type":"text","fontSize":57,"angle":34,"color":"#393996"},
   "encoding":{"x":{"field":"f","type":"quantitative","axis":null},"y":{"field":"v","type":"quantitative","axis":null},"text":{"field":"t"}}},
  {"data":{"values":[{"f":56.5,"v":0.56,"t":"AME - Spinning dust"}]},"mark":{"type":"text","fontSize":57,"angle":69,"color":"#ffa500"},
   "encoding":{"x":{"field":"f","type":"quantitative","axis":null},"y":{"field":"v","type":"quantitative","axis":null},"text":{"field":"t"}}},
  {"data":{"values":[{"f":189.5,"v":0.1603,"t":"Synchrotron"}]},"mark":{"type":"text","fontSize":58,"angle":46,"color":"#1e8a2a"},
   "encoding":{"x":{"field":"f","type":"quantitative","axis":null},"y":{"field":"v","type":"quantitative","axis":null},"text":{"field":"t"}}},
  {"data":{"values":[{"f":114.5,"v":0.665,"t":"CO 1-0"}]},"mark":{"type":"text","fontSize":40,"align":"center","baseline":"alphabetic"},
   "encoding":{"x":{"field":"f","type":"quantitative","axis":null},"y":{"field":"v","type":"quantitative","axis":null},"text":{"field":"t"}}}
 ]
},
{
 "resolve":{"scale":{"x":"shared","y":"shared"},"axis":{"x":"independent","y":"independent"}},
 "layer":[
  {"data":{"name":"bandsR"},"transform":[{"filter":"datum.g == 'L'"}],"mark":{"type":"rect","stroke":"#cfcfcf","strokeWidth":1.5,"fill":{"gradient":"linear","x1":0,"y1":0,"x2":0.0765,"y2":1.0663,"stops":[
{"offset":0,"color":"#d2d2d2"},{"offset":0.00625,"color":"#f7f7f7"},{"offset":0.0125,"color":"#d2d2d2"},{"offset":0.01875,"color":"#f7f7f7"},{"offset":0.025,"color":"#d2d2d2"},{"offset":0.03125,"color":"#f7f7f7"},{"offset":0.0375,"color":"#d2d2d2"},{"offset":0.04375,"color":"#f7f7f7"},{"offset":0.05,"color":"#d2d2d2"},{"offset":0.05625,"color":"#f7f7f7"},{"offset":0.0625,"color":"#d2d2d2"},{"offset":0.06875,"color":"#f7f7f7"},{"offset":0.075,"color":"#d2d2d2"},{"offset":0.08125,"color":"#f7f7f7"},{"offset":0.0875,"color":"#d2d2d2"},{"offset":0.09375,"color":"#f7f7f7"},
{"offset":0.1,"color":"#d2d2d2"},{"offset":0.10625,"color":"#f7f7f7"},{"offset":0.1125,"color":"#d2d2d2"},{"offset":0.11875,"color":"#f7f7f7"},{"offset":0.125,"color":"#d2d2d2"},{"offset":0.13125,"color":"#f7f7f7"},{"offset":0.1375,"color":"#d2d2d2"},{"offset":0.14375,"color":"#f7f7f7"},{"offset":0.15,"color":"#d2d2d2"},{"offset":0.15625,"color":"#f7f7f7"},{"offset":0.1625,"color":"#d2d2d2"},{"offset":0.16875,"color":"#f7f7f7"},{"offset":0.175,"color":"#d2d2d2"},{"offset":0.18125,"color":"#f7f7f7"},{"offset":0.1875,"color":"#d2d2d2"},{"offset":0.19375,"color":"#f7f7f7"},
{"offset":0.2,"color":"#d2d2d2"},{"offset":0.20625,"color":"#f7f7f7"},{"offset":0.2125,"color":"#d2d2d2"},{"offset":0.21875,"color":"#f7f7f7"},{"offset":0.225,"color":"#d2d2d2"},{"offset":0.23125,"color":"#f7f7f7"},{"offset":0.2375,"color":"#d2d2d2"},{"offset":0.24375,"color":"#f7f7f7"},{"offset":0.25,"color":"#d2d2d2"},{"offset":0.25625,"color":"#f7f7f7"},{"offset":0.2625,"color":"#d2d2d2"},{"offset":0.26875,"color":"#f7f7f7"},{"offset":0.275,"color":"#d2d2d2"},{"offset":0.28125,"color":"#f7f7f7"},{"offset":0.2875,"color":"#d2d2d2"},{"offset":0.29375,"color":"#f7f7f7"},
{"offset":0.3,"color":"#d2d2d2"},{"offset":0.30625,"color":"#f7f7f7"},{"offset":0.3125,"color":"#d2d2d2"},{"offset":0.31875,"color":"#f7f7f7"},{"offset":0.325,"color":"#d2d2d2"},{"offset":0.33125,"color":"#f7f7f7"},{"offset":0.3375,"color":"#d2d2d2"},{"offset":0.34375,"color":"#f7f7f7"},{"offset":0.35,"color":"#d2d2d2"},{"offset":0.35625,"color":"#f7f7f7"},{"offset":0.3625,"color":"#d2d2d2"},{"offset":0.36875,"color":"#f7f7f7"},{"offset":0.375,"color":"#d2d2d2"},{"offset":0.38125,"color":"#f7f7f7"},{"offset":0.3875,"color":"#d2d2d2"},{"offset":0.39375,"color":"#f7f7f7"},
{"offset":0.4,"color":"#d2d2d2"},{"offset":0.40625,"color":"#f7f7f7"},{"offset":0.4125,"color":"#d2d2d2"},{"offset":0.41875,"color":"#f7f7f7"},{"offset":0.425,"color":"#d2d2d2"},{"offset":0.43125,"color":"#f7f7f7"},{"offset":0.4375,"color":"#d2d2d2"},{"offset":0.44375,"color":"#f7f7f7"},{"offset":0.45,"color":"#d2d2d2"},{"offset":0.45625,"color":"#f7f7f7"},{"offset":0.4625,"color":"#d2d2d2"},{"offset":0.46875,"color":"#f7f7f7"},{"offset":0.475,"color":"#d2d2d2"},{"offset":0.48125,"color":"#f7f7f7"},{"offset":0.4875,"color":"#d2d2d2"},{"offset":0.49375,"color":"#f7f7f7"},
{"offset":0.5,"color":"#d2d2d2"},{"offset":0.50625,"color":"#f7f7f7"},{"offset":0.5125,"color":"#d2d2d2"},{"offset":0.51875,"color":"#f7f7f7"},{"offset":0.525,"color":"#d2d2d2"},{"offset":0.53125,"color":"#f7f7f7"},{"offset":0.5375,"color":"#d2d2d2"},{"offset":0.54375,"color":"#f7f7f7"},{"offset":0.55,"color":"#d2d2d2"},{"offset":0.55625,"color":"#f7f7f7"},{"offset":0.5625,"color":"#d2d2d2"},{"offset":0.56875,"color":"#f7f7f7"},{"offset":0.575,"color":"#d2d2d2"},{"offset":0.58125,"color":"#f7f7f7"},{"offset":0.5875,"color":"#d2d2d2"},{"offset":0.59375,"color":"#f7f7f7"},
{"offset":0.6,"color":"#d2d2d2"},{"offset":0.60625,"color":"#f7f7f7"},{"offset":0.6125,"color":"#d2d2d2"},{"offset":0.61875,"color":"#f7f7f7"},{"offset":0.625,"color":"#d2d2d2"},{"offset":0.63125,"color":"#f7f7f7"},{"offset":0.6375,"color":"#d2d2d2"},{"offset":0.64375,"color":"#f7f7f7"},{"offset":0.65,"color":"#d2d2d2"},{"offset":0.65625,"color":"#f7f7f7"},{"offset":0.6625,"color":"#d2d2d2"},{"offset":0.66875,"color":"#f7f7f7"},{"offset":0.675,"color":"#d2d2d2"},{"offset":0.68125,"color":"#f7f7f7"},{"offset":0.6875,"color":"#d2d2d2"},{"offset":0.69375,"color":"#f7f7f7"},
{"offset":0.7,"color":"#d2d2d2"},{"offset":0.70625,"color":"#f7f7f7"},{"offset":0.7125,"color":"#d2d2d2"},{"offset":0.71875,"color":"#f7f7f7"},{"offset":0.725,"color":"#d2d2d2"},{"offset":0.73125,"color":"#f7f7f7"},{"offset":0.7375,"color":"#d2d2d2"},{"offset":0.74375,"color":"#f7f7f7"},{"offset":0.75,"color":"#d2d2d2"},{"offset":0.75625,"color":"#f7f7f7"},{"offset":0.7625,"color":"#d2d2d2"},{"offset":0.76875,"color":"#f7f7f7"},{"offset":0.775,"color":"#d2d2d2"},{"offset":0.78125,"color":"#f7f7f7"},{"offset":0.7875,"color":"#d2d2d2"},{"offset":0.79375,"color":"#f7f7f7"},
{"offset":0.8,"color":"#d2d2d2"},{"offset":0.80625,"color":"#f7f7f7"},{"offset":0.8125,"color":"#d2d2d2"},{"offset":0.81875,"color":"#f7f7f7"},{"offset":0.825,"color":"#d2d2d2"},{"offset":0.83125,"color":"#f7f7f7"},{"offset":0.8375,"color":"#d2d2d2"},{"offset":0.84375,"color":"#f7f7f7"},{"offset":0.85,"color":"#d2d2d2"},{"offset":0.85625,"color":"#f7f7f7"},{"offset":0.8625,"color":"#d2d2d2"},{"offset":0.86875,"color":"#f7f7f7"},{"offset":0.875,"color":"#d2d2d2"},{"offset":0.88125,"color":"#f7f7f7"},{"offset":0.8875,"color":"#d2d2d2"},{"offset":0.89375,"color":"#f7f7f7"},
{"offset":0.9,"color":"#d2d2d2"},{"offset":0.90625,"color":"#f7f7f7"},{"offset":0.9125,"color":"#d2d2d2"},{"offset":0.91875,"color":"#f7f7f7"},{"offset":0.925,"color":"#d2d2d2"},{"offset":0.93125,"color":"#f7f7f7"},{"offset":0.9375,"color":"#d2d2d2"},{"offset":0.94375,"color":"#f7f7f7"},{"offset":0.95,"color":"#d2d2d2"},{"offset":0.95625,"color":"#f7f7f7"},{"offset":0.9625,"color":"#d2d2d2"},{"offset":0.96875,"color":"#f7f7f7"},{"offset":0.975,"color":"#d2d2d2"},{"offset":0.98125,"color":"#f7f7f7"},{"offset":0.9875,"color":"#d2d2d2"},{"offset":0.99375,"color":"#f7f7f7"},{"offset":1,"color":"#d2d2d2"}]}},
   "encoding":{
    "x":{"field":"lo","type":"quantitative","scale":{"type":"log","domain":[10,1148],"range":[2241.1,3974.2],"nice":false},
     "axis":{"orient":"bottom","offset":-180.3,"values":[10,30,100,300,1000],"format":"d","tickSize":-35,"labelPadding":84.6,"labelFontSize":46,"labelBaseline":"alphabetic","labelAlign":"center"}},
    "x2":{"field":"hi"},
    "y":{"datum":0.03006,"type":"quantitative","scale":{"type":"log","domain":[0.03006,809],"range":[1393.7,175.7],"nice":false},
     "axis":{"orient":"left","offset":-2241.1,"values":[0.1,1,10,100],"tickSize":-33,"labelPadding":52,"labelAngle":-90,"labelAlign":"center","labelBaseline":"alphabetic","labelFontSize":46,"labelExpr":"datum.value > 50 ? '10\u00b2' : datum.value > 5 ? '10\u00b9' : datum.value > 0.5 ? '10\u2070' : '10\u207b\u00b9'"}},
    "y2":{"datum":809}}},
  {"data":{"name":"bandsR"},"transform":[{"filter":"datum.g == 'H'"}],"mark":{"type":"rect","stroke":"#cfcfcf","strokeWidth":1.5,"fill":{"gradient":"linear","x1":0,"y1":0,"x2":0.1315,"y2":1.1035,"stops":[
{"offset":0,"color":"#d2d2d2"},{"offset":0.00625,"color":"#f7f7f7"},{"offset":0.0125,"color":"#d2d2d2"},{"offset":0.01875,"color":"#f7f7f7"},{"offset":0.025,"color":"#d2d2d2"},{"offset":0.03125,"color":"#f7f7f7"},{"offset":0.0375,"color":"#d2d2d2"},{"offset":0.04375,"color":"#f7f7f7"},{"offset":0.05,"color":"#d2d2d2"},{"offset":0.05625,"color":"#f7f7f7"},{"offset":0.0625,"color":"#d2d2d2"},{"offset":0.06875,"color":"#f7f7f7"},{"offset":0.075,"color":"#d2d2d2"},{"offset":0.08125,"color":"#f7f7f7"},{"offset":0.0875,"color":"#d2d2d2"},{"offset":0.09375,"color":"#f7f7f7"},
{"offset":0.1,"color":"#d2d2d2"},{"offset":0.10625,"color":"#f7f7f7"},{"offset":0.1125,"color":"#d2d2d2"},{"offset":0.11875,"color":"#f7f7f7"},{"offset":0.125,"color":"#d2d2d2"},{"offset":0.13125,"color":"#f7f7f7"},{"offset":0.1375,"color":"#d2d2d2"},{"offset":0.14375,"color":"#f7f7f7"},{"offset":0.15,"color":"#d2d2d2"},{"offset":0.15625,"color":"#f7f7f7"},{"offset":0.1625,"color":"#d2d2d2"},{"offset":0.16875,"color":"#f7f7f7"},{"offset":0.175,"color":"#d2d2d2"},{"offset":0.18125,"color":"#f7f7f7"},{"offset":0.1875,"color":"#d2d2d2"},{"offset":0.19375,"color":"#f7f7f7"},
{"offset":0.2,"color":"#d2d2d2"},{"offset":0.20625,"color":"#f7f7f7"},{"offset":0.2125,"color":"#d2d2d2"},{"offset":0.21875,"color":"#f7f7f7"},{"offset":0.225,"color":"#d2d2d2"},{"offset":0.23125,"color":"#f7f7f7"},{"offset":0.2375,"color":"#d2d2d2"},{"offset":0.24375,"color":"#f7f7f7"},{"offset":0.25,"color":"#d2d2d2"},{"offset":0.25625,"color":"#f7f7f7"},{"offset":0.2625,"color":"#d2d2d2"},{"offset":0.26875,"color":"#f7f7f7"},{"offset":0.275,"color":"#d2d2d2"},{"offset":0.28125,"color":"#f7f7f7"},{"offset":0.2875,"color":"#d2d2d2"},{"offset":0.29375,"color":"#f7f7f7"},
{"offset":0.3,"color":"#d2d2d2"},{"offset":0.30625,"color":"#f7f7f7"},{"offset":0.3125,"color":"#d2d2d2"},{"offset":0.31875,"color":"#f7f7f7"},{"offset":0.325,"color":"#d2d2d2"},{"offset":0.33125,"color":"#f7f7f7"},{"offset":0.3375,"color":"#d2d2d2"},{"offset":0.34375,"color":"#f7f7f7"},{"offset":0.35,"color":"#d2d2d2"},{"offset":0.35625,"color":"#f7f7f7"},{"offset":0.3625,"color":"#d2d2d2"},{"offset":0.36875,"color":"#f7f7f7"},{"offset":0.375,"color":"#d2d2d2"},{"offset":0.38125,"color":"#f7f7f7"},{"offset":0.3875,"color":"#d2d2d2"},{"offset":0.39375,"color":"#f7f7f7"},
{"offset":0.4,"color":"#d2d2d2"},{"offset":0.40625,"color":"#f7f7f7"},{"offset":0.4125,"color":"#d2d2d2"},{"offset":0.41875,"color":"#f7f7f7"},{"offset":0.425,"color":"#d2d2d2"},{"offset":0.43125,"color":"#f7f7f7"},{"offset":0.4375,"color":"#d2d2d2"},{"offset":0.44375,"color":"#f7f7f7"},{"offset":0.45,"color":"#d2d2d2"},{"offset":0.45625,"color":"#f7f7f7"},{"offset":0.4625,"color":"#d2d2d2"},{"offset":0.46875,"color":"#f7f7f7"},{"offset":0.475,"color":"#d2d2d2"},{"offset":0.48125,"color":"#f7f7f7"},{"offset":0.4875,"color":"#d2d2d2"},{"offset":0.49375,"color":"#f7f7f7"},
{"offset":0.5,"color":"#d2d2d2"},{"offset":0.50625,"color":"#f7f7f7"},{"offset":0.5125,"color":"#d2d2d2"},{"offset":0.51875,"color":"#f7f7f7"},{"offset":0.525,"color":"#d2d2d2"},{"offset":0.53125,"color":"#f7f7f7"},{"offset":0.5375,"color":"#d2d2d2"},{"offset":0.54375,"color":"#f7f7f7"},{"offset":0.55,"color":"#d2d2d2"},{"offset":0.55625,"color":"#f7f7f7"},{"offset":0.5625,"color":"#d2d2d2"},{"offset":0.56875,"color":"#f7f7f7"},{"offset":0.575,"color":"#d2d2d2"},{"offset":0.58125,"color":"#f7f7f7"},{"offset":0.5875,"color":"#d2d2d2"},{"offset":0.59375,"color":"#f7f7f7"},
{"offset":0.6,"color":"#d2d2d2"},{"offset":0.60625,"color":"#f7f7f7"},{"offset":0.6125,"color":"#d2d2d2"},{"offset":0.61875,"color":"#f7f7f7"},{"offset":0.625,"color":"#d2d2d2"},{"offset":0.63125,"color":"#f7f7f7"},{"offset":0.6375,"color":"#d2d2d2"},{"offset":0.64375,"color":"#f7f7f7"},{"offset":0.65,"color":"#d2d2d2"},{"offset":0.65625,"color":"#f7f7f7"},{"offset":0.6625,"color":"#d2d2d2"},{"offset":0.66875,"color":"#f7f7f7"},{"offset":0.675,"color":"#d2d2d2"},{"offset":0.68125,"color":"#f7f7f7"},{"offset":0.6875,"color":"#d2d2d2"},{"offset":0.69375,"color":"#f7f7f7"},
{"offset":0.7,"color":"#d2d2d2"},{"offset":0.70625,"color":"#f7f7f7"},{"offset":0.7125,"color":"#d2d2d2"},{"offset":0.71875,"color":"#f7f7f7"},{"offset":0.725,"color":"#d2d2d2"},{"offset":0.73125,"color":"#f7f7f7"},{"offset":0.7375,"color":"#d2d2d2"},{"offset":0.74375,"color":"#f7f7f7"},{"offset":0.75,"color":"#d2d2d2"},{"offset":0.75625,"color":"#f7f7f7"},{"offset":0.7625,"color":"#d2d2d2"},{"offset":0.76875,"color":"#f7f7f7"},{"offset":0.775,"color":"#d2d2d2"},{"offset":0.78125,"color":"#f7f7f7"},{"offset":0.7875,"color":"#d2d2d2"},{"offset":0.79375,"color":"#f7f7f7"},
{"offset":0.8,"color":"#d2d2d2"},{"offset":0.80625,"color":"#f7f7f7"},{"offset":0.8125,"color":"#d2d2d2"},{"offset":0.81875,"color":"#f7f7f7"},{"offset":0.825,"color":"#d2d2d2"},{"offset":0.83125,"color":"#f7f7f7"},{"offset":0.8375,"color":"#d2d2d2"},{"offset":0.84375,"color":"#f7f7f7"},{"offset":0.85,"color":"#d2d2d2"},{"offset":0.85625,"color":"#f7f7f7"},{"offset":0.8625,"color":"#d2d2d2"},{"offset":0.86875,"color":"#f7f7f7"},{"offset":0.875,"color":"#d2d2d2"},{"offset":0.88125,"color":"#f7f7f7"},{"offset":0.8875,"color":"#d2d2d2"},{"offset":0.89375,"color":"#f7f7f7"},
{"offset":0.9,"color":"#d2d2d2"},{"offset":0.90625,"color":"#f7f7f7"},{"offset":0.9125,"color":"#d2d2d2"},{"offset":0.91875,"color":"#f7f7f7"},{"offset":0.925,"color":"#d2d2d2"},{"offset":0.93125,"color":"#f7f7f7"},{"offset":0.9375,"color":"#d2d2d2"},{"offset":0.94375,"color":"#f7f7f7"},{"offset":0.95,"color":"#d2d2d2"},{"offset":0.95625,"color":"#f7f7f7"},{"offset":0.9625,"color":"#d2d2d2"},{"offset":0.96875,"color":"#f7f7f7"},{"offset":0.975,"color":"#d2d2d2"},{"offset":0.98125,"color":"#f7f7f7"},{"offset":0.9875,"color":"#d2d2d2"},{"offset":0.99375,"color":"#f7f7f7"},{"offset":1,"color":"#d2d2d2"}]}},
   "encoding":{"x":{"field":"lo","type":"quantitative","axis":null},"x2":{"field":"hi"},"y":{"datum":0.03006,"type":"quantitative","axis":null},"y2":{"datum":809}}},
  {"data":{"values":[{}]},"mark":{"type":"point","opacity":0},
   "encoding":{"x":{"datum":100,"type":"quantitative","axis":{"orient":"bottom","offset":-180.3,"values":[20,40,50,60,70,80,90,200,400,500,600,700,800,900],"tickSize":-17,"labels":false,"domain":false}},
    "y":{"datum":1,"type":"quantitative","axis":{"orient":"left","offset":-2241.1,"values":[0.04,0.05,0.06,0.07,0.08,0.09,0.2,0.3,0.4,0.5,0.6,0.7,0.8,0.9,2,3,4,5,6,7,8,9,20,30,40,50,60,70,80,90,200,300,400,500,600,700,800],"tickSize":-16,"labels":false,"domain":false}}}},
  {"data":{"values":[{}]},"mark":{"type":"point","opacity":0},
   "encoding":{"x":{"datum":100,"type":"quantitative","axis":{"orient":"top","offset":-175.7,"values":[10,30,100,300,1000],"tickSize":-25,"labels":false}},
    "y":{"datum":1,"type":"quantitative","axis":{"orient":"right","offset":-121.8,"values":[0.1,1,10,100],"tickSize":-33,"labels":false}}}},
  {"data":{"values":[{}]},"mark":{"type":"point","opacity":0},
   "encoding":{"x":{"datum":100,"type":"quantitative","axis":{"orient":"top","offset":-175.7,"values":[20,40,50,60,70,80,90,200,400,500,600,700,800,900],"tickSize":-15,"labels":false,"domain":false}},
    "y":{"datum":1,"type":"quantitative","axis":{"orient":"right","offset":-121.8,"values":[0.04,0.05,0.06,0.07,0.08,0.09,0.2,0.3,0.4,0.5,0.6,0.7,0.8,0.9,2,3,4,5,6,7,8,9,20,30,40,50,60,70,80,90,200,300,400,500,600,700,800],"tickSize":-16,"labels":false,"domain":false}}}},
  {"data":{"name":"dustR"},"mark":{"type":"area","color":"#ee0000","interpolate":"monotone"},
   "encoding":{"x":{"field":"f","type":"quantitative","axis":null},"y":{"field":"lo","type":"quantitative","axis":null},"y2":{"field":"hi"}}},
  {"data":{"name":"syncR"},"mark":{"type":"area","color":"#007f00"},
   "encoding":{"x":{"field":"f","type":"quantitative","axis":null},"y":{"field":"lo","type":"quantitative","axis":null},"y2":{"field":"hi"}}},
  {"data":{"name":"cmbE"},"mark":{"type":"line","color":"#00ffff","strokeWidth":15,"interpolate":"monotone"},
   "encoding":{"x":{"field":"f","type":"quantitative","axis":null},"y":{"field":"v","type":"quantitative","axis":null}}},
  {"data":{"name":"sumR"},"mark":{"type":"line","color":"#000000","strokeWidth":4.3,"strokeDash":[26,14],"interpolate":"monotone"},
   "encoding":{"x":{"field":"f","type":"quantitative","axis":null},"y":{"field":"u","type":"quantitative","axis":null}}},
  {"data":{"name":"sumR"},"mark":{"type":"line","color":"#000000","strokeWidth":4.3,"strokeDash":[26,14],"interpolate":"monotone"},
   "encoding":{"x":{"field":"f","type":"quantitative","axis":null},"y":{"field":"m","type":"quantitative","axis":null}}},
  {"data":{"name":"sumR"},"mark":{"type":"line","color":"#000000","strokeWidth":4.3,"strokeDash":[26,14],"interpolate":"monotone"},
   "encoding":{"x":{"field":"f","type":"quantitative","axis":null},"y":{"field":"l","type":"quantitative","axis":null}}},
  {"data":{"values":[{"a":11.5,"b":47.5,"v":0.04487}]},"mark":{"type":"rule","color":"#6fa8f5","strokeWidth":17.4},
   "encoding":{"x":{"field":"a","type":"quantitative","axis":null},"x2":{"field":"b"},"y":{"field":"v","type":"quantitative","axis":null}}},
  {"data":{"values":[{"f":22.1,"v":0.0316}]},"mark":{"type":"point","shape":"M -0.66 -0.571 L 0.66 -0.571 L 0.66 0 L 1 0 L 0 0.571 L -1 0 L -0.66 0 Z","size":21363,"filled":true,"color":"#6fa8f5","opacity":1,"strokeWidth":0},
   "encoding":{"x":{"field":"f","type":"quantitative","axis":null},"y":{"field":"v","type":"quantitative","axis":null}}},
  {"data":{"name":"bandsR"},"mark":{"type":"text","fontSize":61,"align":"center","baseline":"alphabetic"},
   "encoding":{"x":{"field":"f","type":"quantitative","axis":null},"y":{"datum":388.2,"type":"quantitative","axis":null},"text":{"field":"lab"}}},
  {"data":{"values":[{"f":42.04,"v":1036,"t":"P"}]},"mark":{"type":"text","fontSize":113,"align":"left","baseline":"alphabetic"},
   "encoding":{"x":{"field":"f","type":"quantitative","axis":null},"y":{"field":"v","type":"quantitative","axis":null},"text":{"field":"t"}}},
  {"data":{"values":[{"f":49.9,"v":1036,"t":"OLARIZATION"}]},"mark":{"type":"text","fontSize":97,"align":"left","baseline":"alphabetic"},
   "encoding":{"x":{"field":"f","type":"quantitative","axis":null},"y":{"field":"v","type":"quantitative","axis":null},"text":{"field":"t"}}},
  {"data":{"values":[{"f":7.305,"v":0.09082,"t":"Rms brightness temperature [\u03bcK"},{"f":7.305,"v":190.8,"t":"]"}]},"mark":{"type":"text","fontSize":66,"angle":-90,"align":"left","baseline":"alphabetic"},
   "encoding":{"x":{"field":"f","type":"quantitative","axis":null},"y":{"field":"v","type":"quantitative","axis":null},"text":{"field":"t"}}},
  {"data":{"values":[{"f":7.751,"v":127.0,"t":"RJ"}]},"mark":{"type":"text","fontSize":46,"angle":-90,"align":"left","baseline":"alphabetic"},
   "encoding":{"x":{"field":"f","type":"quantitative","axis":null},"y":{"field":"v","type":"quantitative","axis":null},"text":{"field":"t"}}},
  {"data":{"values":[{"f":107.15,"v":0.011334,"t":"Frequency [GHz]"}]},"mark":{"type":"text","fontSize":63,"align":"center","baseline":"alphabetic"},
   "encoding":{"x":{"field":"f","type":"quantitative","axis":null},"y":{"field":"v","type":"quantitative","axis":null},"text":{"field":"t"}}},
  {"data":{"values":[{"f":19.77,"v":38.19,"t":"Synchrotron"}]},"mark":{"type":"text","fontSize":57,"angle":44.5,"color":"#0a8a0a"},
   "encoding":{"x":{"field":"f","type":"quantitative","axis":null},"y":{"field":"v","type":"quantitative","axis":null},"text":{"field":"t"}}},
  {"data":{"values":[{"f":24.15,"v":3.741,"t":"Sum foregrounds"}]},"mark":{"type":"text","fontSize":59,"angle":45.4,"color":"#111111"},
   "encoding":{"x":{"field":"f","type":"quantitative","axis":null},"y":{"field":"v","type":"quantitative","axis":null},"text":{"field":"t"}}},
  {"data":{"values":[{"f":338.1,"v":3.656,"t":"Thermal dust"}]},"mark":{"type":"text","fontSize":62,"angle":-18,"color":"#ee0000"},
   "encoding":{"x":{"field":"f","type":"quantitative","axis":null},"y":{"field":"v","type":"quantitative","axis":null},"text":{"field":"t"}}},
  {"data":{"name":"fsky"},"mark":{"type":"text","fontSize":32,"fontStyle":"italic","align":"left","baseline":"alphabetic","color":"#222222"},
   "encoding":{"x":{"field":"f","type":"quantitative","axis":null},"y":{"field":"v","type":"quantitative","axis":null},"text":{"value":"f"}}},
  {"data":{"name":"fsky"},"mark":{"type":"text","fontSize":21,"align":"left","baseline":"alphabetic","color":"#222222"},
   "encoding":{"x":{"field":"fs","type":"quantitative","axis":null},"y":{"field":"vs","type":"quantitative","axis":null},"text":{"value":"sky"}}},
  {"data":{"name":"fsky"},"mark":{"type":"text","fontSize":32,"align":"left","baseline":"alphabetic","color":"#222222"},
   "encoding":{"x":{"field":"fe","type":"quantitative","axis":null},"y":{"field":"v","type":"quantitative","axis":null},"text":{"field":"t"}}},
  {"data":{"values":[{"f":11.59,"v":0.05508,"t":"CMB"},{"f":23.81,"v":0.05508,"t":"-modes"}]},"mark":{"type":"text","fontSize":81,"fontWeight":"bold","align":"left","baseline":"alphabetic","color":"#ffffff","stroke":"#ffffff","strokeWidth":7},
   "encoding":{"x":{"field":"f","type":"quantitative","axis":null},"y":{"field":"v","type":"quantitative","axis":null},"text":{"field":"t"}}},
  {"data":{"values":[{"f":20.54,"v":0.05508,"t":"B"}]},"mark":{"type":"text","fontSize":81,"fontWeight":"bold","fontStyle":"italic","align":"left","baseline":"alphabetic","color":"#ffffff","stroke":"#ffffff","strokeWidth":7},
   "encoding":{"x":{"field":"f","type":"quantitative","axis":null},"y":{"field":"v","type":"quantitative","axis":null},"text":{"field":"t"}}},
  {"data":{"values":[{"f":11.59,"v":0.2344,"t":"CMB"},{"f":23.81,"v":0.2344,"t":"-modes"}]},"mark":{"type":"text","fontSize":81,"fontWeight":"bold","align":"left","baseline":"alphabetic","color":"#3fdad0"},
   "encoding":{"x":{"field":"f","type":"quantitative","axis":null},"y":{"field":"v","type":"quantitative","axis":null},"text":{"field":"t"}}},
  {"data":{"values":[{"f":20.54,"v":0.2344,"t":"E"}]},"mark":{"type":"text","fontSize":81,"fontWeight":"bold","fontStyle":"italic","align":"left","baseline":"alphabetic","color":"#3fdad0"},
   "encoding":{"x":{"field":"f","type":"quantitative","axis":null},"y":{"field":"v","type":"quantitative","axis":null},"text":{"field":"t"}}},
  {"data":{"values":[{"f":11.59,"v":0.05508,"t":"CMB"},{"f":23.81,"v":0.05508,"t":"-modes"}]},"mark":{"type":"text","fontSize":81,"fontWeight":"bold","align":"left","baseline":"alphabetic","color":"#6fa8f5"},
   "encoding":{"x":{"field":"f","type":"quantitative","axis":null},"y":{"field":"v","type":"quantitative","axis":null},"text":{"field":"t"}}},
  {"data":{"values":[{"f":20.54,"v":0.05508,"t":"B"}]},"mark":{"type":"text","fontSize":81,"fontWeight":"bold","fontStyle":"italic","align":"left","baseline":"alphabetic","color":"#6fa8f5"},
   "encoding":{"x":{"field":"f","type":"quantitative","axis":null},"y":{"field":"v","type":"quantitative","axis":null},"text":{"field":"t"}}},
  {"data":{"values":[{"f":1396,"v":2.962,"t":"[Adapted from Planck 2015 X and Planck 2018 IV]"}]},"mark":{"type":"text","font":"Liberation Mono","fontSize":42,"angle":-90,"align":"center","baseline":"alphabetic","color":"#333333"},
   "encoding":{"x":{"field":"f","type":"quantitative","axis":null},"y":{"field":"v","type":"quantitative","axis":null},"text":{"field":"t"}}}
 ]
}
]
}
